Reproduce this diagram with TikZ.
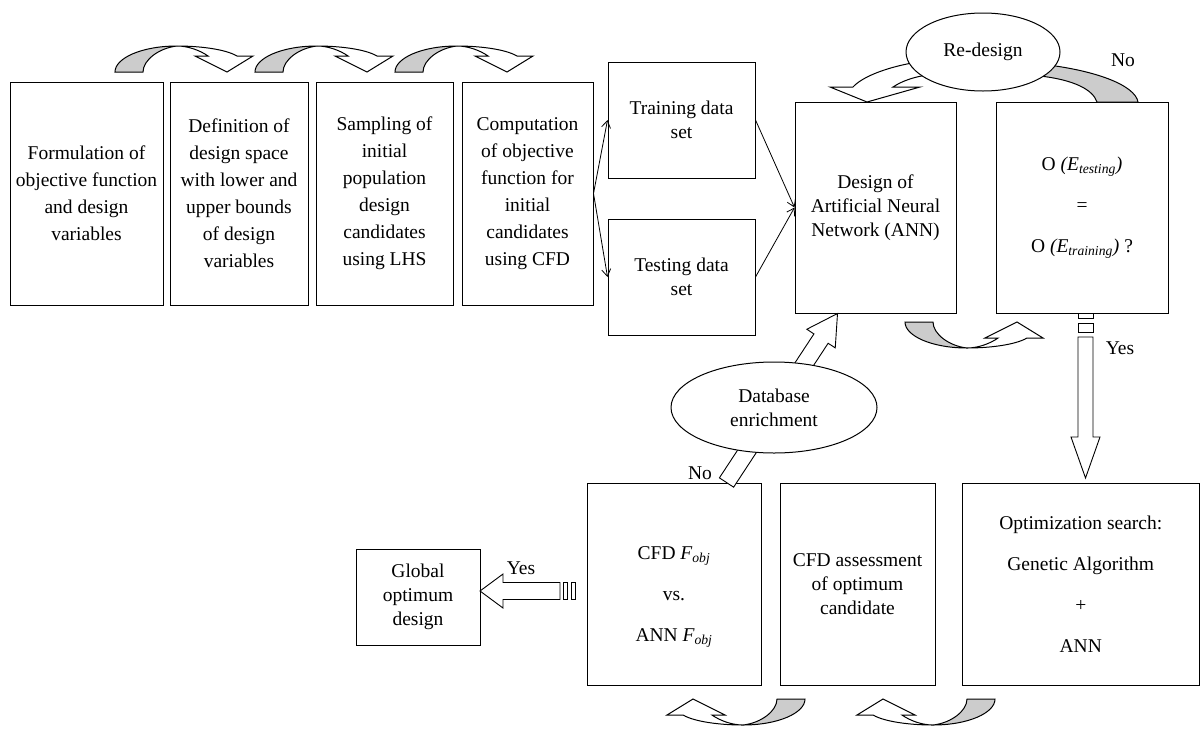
\documentclass[tikz,border=0pt]{standalone}
\usepackage{fontspec}
\setmainfont{Liberation Serif}
\usetikzlibrary{calc,arrows.meta,shapes.geometric}
\definecolor{arrgray}{gray}{0.8}
\tikzset{
  curvarrow/.pic={
    \draw[fill=arrgray] (0,0) .. controls (35,0) and (62,-12) .. (62,-26) -- (34,-26) .. controls (34,-14) and (18,-2) .. (0,0) -- cycle;
    \draw[fill=white] (0,0) .. controls (-22,0) and (-48,-3) .. (-60,-10) -- (-76,-10) -- (-50,-26) -- (-18,-10) -- (-31,-10) .. controls (-24,-5) and (-12,0) .. (0,0) -- cycle;
  }
}
\newcommand\blockarrow[5]{%
  \coordinate (bahead) at ($(#2)!#5!(#1)$);
  \draw[blk] ($(#1)!#3!90:(#2)$) -- ($(bahead)!#3!90:(#2)$) -- ($(bahead)!#4!90:(#2)$) -- (#2) -- ($(bahead)!#4!-90:(#2)$) -- ($(bahead)!#3!-90:(#2)$) -- ($(#1)!#3!-90:(#2)$) -- cycle;}
\begin{document}
\begin{tikzpicture}[x=1pt,y=-1pt,line width=1pt,
  box/.style={draw, fill=white, align=center, inner sep=0pt},
  fA/.style={font=\fontsize{19.5}{27}\selectfont},
  fB/.style={font=\fontsize{19.5}{24}\selectfont},
  fC/.style={font=\fontsize{19.5}{41}\selectfont},
  oval/.style={draw, fill=white, ellipse, inner sep=0pt, align=center},
  conn/.style={-{Straight Barb[length=7pt,width=9pt]}, line width=0.8pt},
  blk/.style={draw, fill=white, line width=0.9pt, line join=miter}]
\useasboundingbox (0,0) rectangle (1201,729);

% top row boxes
\node[box,fA,minimum width=153pt,minimum height=223pt] (b1) at (86.5,193.5) {Formulation of\\objective function\\and design\\variables};
\node[box,fA,minimum width=138pt,minimum height=223pt] (b2) at (239,193.5) {Definition of\\design space\\with lower and\\upper bounds\\of design\\variables};
\node[box,fA,minimum width=137pt,minimum height=223pt] (b3) at (384.5,193.5) {Sampling of\\initial\\population\\design\\candidates\\using LHS};
\node[box,fA,minimum width=131pt,minimum height=223pt] (b4) at (527.5,193.5) {Computation\\of objective\\function for\\initial\\candidates\\using CFD};

% curved arrows over the top row
\begin{scope}[shift={(177,46)},rotate=180] \pic[transform shape] {curvarrow}; \end{scope}
\begin{scope}[shift={(317,46)},rotate=180] \pic[transform shape] {curvarrow}; \end{scope}
\begin{scope}[shift={(457,46)},rotate=180] \pic[transform shape] {curvarrow}; \end{scope}

\node[box,fB,minimum width=147pt,minimum height=116pt] (train) at (681.5,120) {Training data\\set};
\node[box,fB,minimum width=147pt,minimum height=116pt] (test) at (681.5,277) {Testing data\\set};
\node[box,fB,minimum width=161pt,minimum height=211pt] (ann) at (875.5,207.5) {Design of\\Artificial Neural\\Network (ANN)};
\node[box,fC,minimum width=172pt,minimum height=211pt] (obox) at (1082,207.5) {O \textit{(E\textsubscript{testing})}\\=\\O \textit{(E\textsubscript{training})} ?};

\draw[conn] (b4.east) -- (train.west);
\draw[conn] (b4.east) -- (test.west);
\draw[conn] (train.east) -- (ann.west);
\draw[conn] (test.east) -- (ann.west);

% Re-design loop
\draw[fill=white] (912,63) .. controls (885,68) and (862,77) .. (853,87) -- (830,87) -- (867,102) -- (920,87) -- (893,87) .. controls (902,81) and (915,76) .. (935,74) -- cycle;
\draw[fill=arrgray] (1040,64) .. controls (1095,70) and (1135,85) .. (1138,102) -- (1097,102) .. controls (1093,90) and (1075,80) .. (1040,76) -- cycle;
\node[oval,fB,minimum width=154pt,minimum height=78pt] (redesign) at (983,52) {Re-design};
\node[fB,inner sep=0pt] (no1) at (1123,60) {No};

% curved arrow under ANN
\begin{scope}[shift={(967,348)},xscale=-1] \pic[transform shape] {curvarrow}; \end{scope}

% bottom row
\node[box,minimum width=174pt,minimum height=202pt] (cfdvs) at (674,584) {};
\node[fC,align=center,inner sep=0pt] (cfdvsT) at (674,597) {CFD \textit{F\textsubscript{obj}}\\vs.\\ANN \textit{F\textsubscript{obj}}};
\node[box,fB,minimum width=155pt,minimum height=202pt] (cfdas) at (857.5,584) {CFD assessment\\of optimum\\candidate};
\node[box,fC,minimum width=237.5pt,minimum height=202pt] (opt) at (1080.75,584) {Optimization search:\\Genetic Algorithm\\+\\ANN};
\node[box,fB,minimum width=124pt,minimum height=96pt] (glob) at (418,597) {Global\\optimum\\design};

% Yes arrow down from O box
\draw[blk] (1078,313) rectangle (1093,318);
\draw[blk] (1078,323) rectangle (1093,332);
\draw[blk] (1078,337) -- (1093,337) -- (1093,437) -- (1100,437) -- (1085.5,478) -- (1071,437) -- (1078,437) -- cycle;
\node[fB,inner sep=0pt] (yes1) at (1120,348) {Yes};

% No arrow up to ANN through database enrichment
\coordinate (upT) at ($(cfdvs.north west)+(140,0)$);
\coordinate (upH) at ($(ann.south west)+(43,0)$);
\blockarrow{upT}{upH}{8.5pt}{17pt}{30pt}
\node[oval,fB,minimum width=206pt,minimum height=91pt] (db) at (774,407.5) {Database\\enrichment};
\node[fB,inner sep=0pt] (no2) at (700,473) {No};

% Yes arrow to global optimum
\draw[blk] (480,591) -- (503,574) -- (503,582.5) -- (560,582.5) -- (560,599.5) -- (503,599.5) -- (503,608) -- cycle;
\draw[blk] (563,582.5) rectangle (567,599.5);
\draw[blk] (571,582.5) rectangle (575,599.5);
\node[fB,inner sep=0pt] (yes2) at (521,568) {Yes};

% curved arrows under bottom row
\begin{scope}[shift={(743,725)}] \pic[transform shape] {curvarrow}; \end{scope}
\begin{scope}[shift={(933,725)}] \pic[transform shape] {curvarrow}; \end{scope}
\end{tikzpicture}
\end{document}
